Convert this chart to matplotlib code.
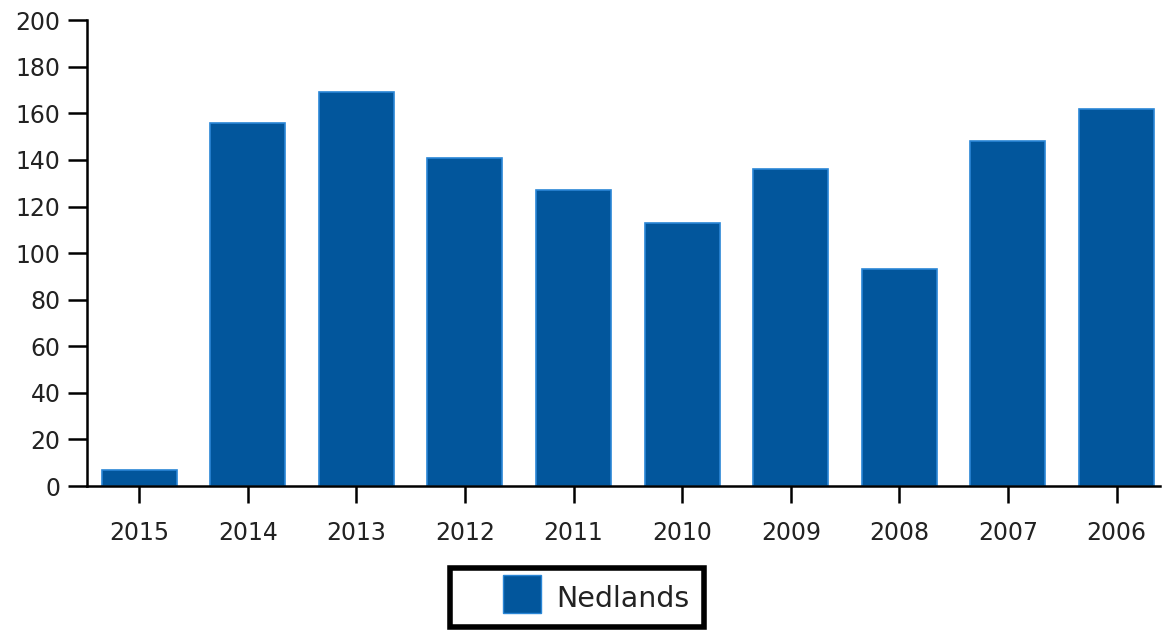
import matplotlib.pyplot as plt
from matplotlib.lines import Line2D

# Values
years = ['2015', '2014', '2013', '2012', '2011', '2010', '2009', '2008', '2007', '2006']
counts = [7, 156, 169, 141, 127, 113, 136, 93, 148, 162]
y_ticks = [0, 20, 40, 60, 80, 100, 120, 140, 160, 180, 200]
series_name = 'Nedlands'

bar_color = '#02569c'

fig = plt.figure(figsize=(11.65, 6.32), dpi=100)
fig.patch.set_facecolor('white')
ax = fig.add_axes([0.0747, 0.231, 0.9210, 0.737])

x = list(range(len(years)))
ax.bar(x, counts, width=0.69, color=bar_color, edgecolor='#2a86d6', linewidth=1.2, zorder=2)

ax.set_xlim(-0.48, len(years) - 1 + 0.40)
ax.set_ylim(0, 200)
ax.set_yticks(y_ticks)
ax.set_xticks(x)
ax.set_xticklabels(years)

for side in ['top', 'right']:
    ax.spines[side].set_visible(False)
for side in ['left', 'bottom']:
    ax.spines[side].set_linewidth(1.8)
    ax.spines[side].set_color('black')
    ax.spines[side].set_zorder(3)

ax.tick_params(axis='y', direction='out', length=14, width=1.8, labelsize=17, pad=5,
               labelcolor='#222222')
ax.tick_params(axis='x', direction='out', length=12, width=1.8, labelsize=17, pad=13,
               labelcolor='#222222')

# square marker handle so the swatch can sit inset from the frame like the original
handle = Line2D([], [], linestyle='none', marker='s', markersize=28,
                markerfacecolor=bar_color, markeredgecolor='#2a86d6',
                markeredgewidth=1, label=series_name)
leg = fig.legend(handles=[handle], loc='center', bbox_to_anchor=(0.4953, 0.0546),
                 fontsize=20.5, frameon=True, fancybox=False, framealpha=1,
                 handlelength=4.0, handleheight=1.26, borderpad=0.51,
                 handletextpad=-0.78, borderaxespad=0)
leg.get_frame().set_edgecolor('black')
leg.get_frame().set_linewidth(4)
for t in leg.get_texts():
    t.set_color('#222222')

fig.savefig('out.png', dpi=100, facecolor='white')
